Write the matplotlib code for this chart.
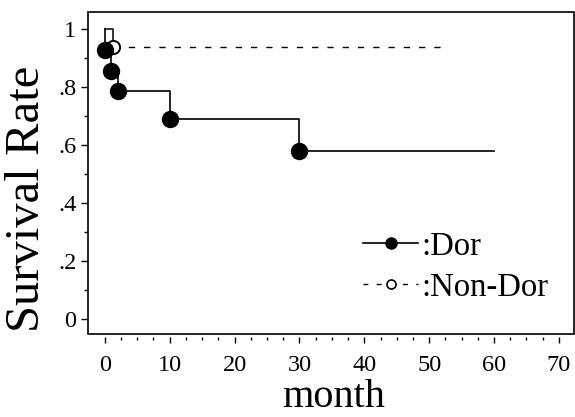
import matplotlib
matplotlib.use("Agg")
import matplotlib.pyplot as plt
from matplotlib.lines import Line2D
from matplotlib.patches import Rectangle

plt.rcParams['font.family'] = ['Liberation Serif', 'DejaVu Serif']

# Kaplan-Meier style survival data
dor_month = [0, 0, 1, 2, 10, 30, 60]
dor_rate = [1.0, 0.929, 0.857, 0.786, 0.69, 0.58, 0.58]
dor_events = [1, 2, 3, 4, 5]          # indices that get a filled marker

nondor_month = [0, 1.2, 52]
nondor_rate = [1.0, 0.938, 0.938]

xticks = [0, 10, 20, 30, 40, 50, 60, 70]
yticks = [0, 0.2, 0.4, 0.6, 0.8, 1.0]
ytick_labels = ["0", ".2", ".4", ".6", ".8", "1"]

fig = plt.figure(figsize=(5.75, 4.17), dpi=100)
ax = fig.add_axes([0.153, 0.199, 0.845, 0.772])

# Non-Dor: first drop looks solid, rest dashed
ax.plot(nondor_month[:2], nondor_rate[:2], drawstyle='steps-post', color='black', lw=1.1)
ax.plot(nondor_month[1:], nondor_rate[1:], color='black', lw=1.0, dashes=(4.5, 6.5))
ax.plot([nondor_month[1]], [nondor_rate[1]], 'o', ms=9.5, mfc='white', mec='black', mew=1.4)

# Dor
ax.plot(dor_month, dor_rate, drawstyle='steps-post', color='black', lw=1.2)
ax.plot([dor_month[i] for i in dor_events], [dor_rate[i] for i in dor_events],
        'o', ms=11.5, color='black', zorder=5)

ax.set_xlim(-2.6, 72.3)
ax.set_ylim(-0.052, 1.059)
ax.set_xticks(xticks)
ax.set_xticks([t + d for t in xticks[:-1] for d in (2.5, 5, 7.5)], minor=True)
ax.set_yticks(yticks)
ax.set_yticklabels(ytick_labels)
ax.set_yticks([0.1, 0.3, 0.5, 0.7, 0.9], minor=True)

for s in ax.spines.values():
    s.set_visible(False)
ax.spines['bottom'].set_position(('outward', 2))
ax.spines['left'].set_position(('outward', 1))
ax.add_patch(Rectangle((0, 0), 1, 1, transform=ax.transAxes, fill=False,
                       ec='black', lw=1.2, clip_on=False, zorder=6))

ax.tick_params(axis='x', which='major', direction='out', length=4.3, width=1.0, pad=9, labelsize=17.5)
ax.tick_params(axis='x', which='minor', direction='out', length=2.2, width=1.0)
ax.tick_params(axis='y', which='major', direction='out', length=4.3, width=1.0, pad=3, labelsize=17.5)
ax.tick_params(axis='y', which='minor', direction='out', length=2.2, width=1.0)

ax.set_xlabel("month", fontsize=29)
ax.xaxis.set_label_coords(0.506, -0.254)
ax.xaxis.label.set_va('bottom')
ax.set_ylabel("Survival Rate", fontsize=35)
ax.yaxis.set_label_coords(-0.125, 0.42)
ax.yaxis.label.set_va('center')

handles = [
    Line2D([], [], color='black', lw=1.2, marker='o', ms=8, mfc='black'),
    Line2D([], [], color='black', lw=1.0, dashes=(3.5, 6), marker='o', ms=6.5,
           mfc='white', mec='black', mew=1.2),
]
ax.legend(handles, [":Dor", ":Non-Dor"], loc='upper left', bbox_to_anchor=(0.566, 0.32),
          frameon=False, fontsize=23.5, handlelength=1.7, handletextpad=0.1,
          borderpad=0, borderaxespad=0, labelspacing=0.33)

fig.savefig("out.png", dpi=100)
